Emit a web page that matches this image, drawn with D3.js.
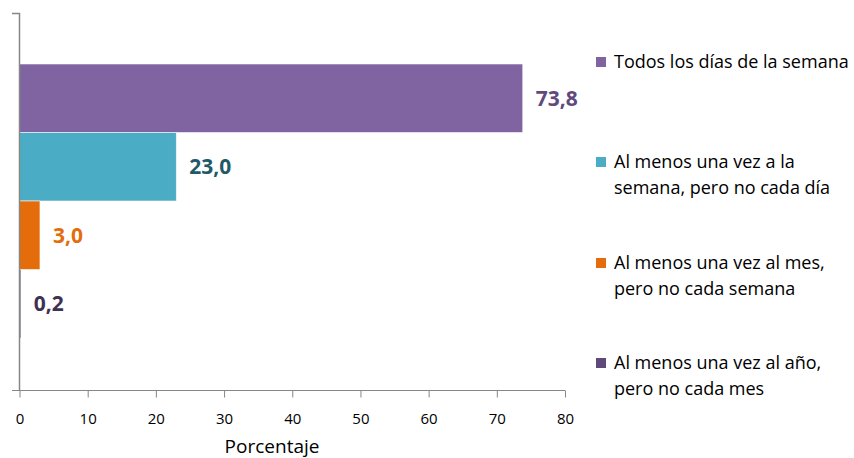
<!DOCTYPE html>
<html><head><meta charset="utf-8">
<script src="https://cdn.jsdelivr.net/npm/d3@7"></script>
<style>body{margin:0;background:#fff}text{font-family:"Open Sans",sans-serif}</style>
</head><body>
<svg id="c" width="854" height="458"></svg>
<script>
const series = ["Todos los días de la semana","Al menos una vez a la semana, pero no cada día","Al menos una vez al mes, pero no cada semana","Al menos una vez al año, pero no cada mes"];
const legendLines = [["Todos los días de la semana"],["Al menos una vez a la","semana, pero no cada día"],["Al menos una vez al mes,","pero no cada semana"],["Al menos una vez al año,","pero no cada mes"]];
const values = [73.8, 23.0, 3.0, 0.2];
const labels = ["73,8","23,0","3,0","0,2"];
const ticks = [0,10,20,30,40,50,60,70,80];
const barColors = ["#8064A2","#4BACC6","#E46C0A","#5F497A"];
const labelColors = ["#604A7B","#215968","#E46C0A","#3F3151"];

const svg = d3.select("#c");
const x = d3.scaleLinear().domain([0,80]).range([19.5,565]);
const y = d3.scaleBand().domain(series).range([64,338]).padding(0);

// bars
svg.selectAll("rect.bar").data(series).join("rect").attr("class","bar")
  .attr("x",x(0)).attr("y",d=>y(d)).attr("height",y.bandwidth())
  .attr("width",(d,i)=>x(values[i])-x(0)).attr("fill",(d,i)=>barColors[i])
  .attr("stroke","#fff").attr("stroke-opacity",0.7).attr("stroke-width",0.8);

// axes
const ax = svg.append("g").attr("transform","translate(0,390.5)")
  .call(d3.axisBottom(x).tickValues(ticks).tickSize(7).tickPadding(16).tickFormat(d=>d));
ax.select(".domain").attr("stroke","#868686").attr("d","M12,0H565");
ax.selectAll(".tick line").attr("stroke","#868686");
ax.selectAll(".tick text").attr("fill","#000").style("font-size","15px").style("font-family","'Open Sans',sans-serif");
svg.append("path").attr("d","M12,13.5H19.5V390.5").attr("fill","none").attr("stroke","#868686").attr("stroke-width",1.5);

// value labels
svg.selectAll("text.val").data(series).join("text").attr("class","val")
  .attr("x",(d,i)=>x(values[i])+13).attr("y",d=>y(d)+y.bandwidth()/2).attr("dy","0.35em")
  .attr("fill",(d,i)=>labelColors[i]).style("font-size","21px").style("font-weight","bold")
  .text((d,i)=>labels[i]);

// axis title
svg.append("text").attr("x",272).attr("y",453).attr("text-anchor","middle").style("font-size","19px").text("Porcentaje");

// legend
const legTop = [62,162,263,363];
const lg = svg.selectAll("g.leg").data(series).join("g").attr("class","leg");
lg.append("rect").attr("x",596).attr("y",(d,i)=>legTop[i]-5).attr("width",10).attr("height",10).attr("fill",(d,i)=>barColors[i]);
lg.each(function(d,i){
  const g=d3.select(this);
  legendLines[i].forEach((l,j)=>{
    g.append("text").attr("x",614).attr("y",legTop[i]+j*26).attr("dy","0.35em").style("font-size","18px").attr("fill","#000").text(l);
  });
});
</script>
</body></html>
